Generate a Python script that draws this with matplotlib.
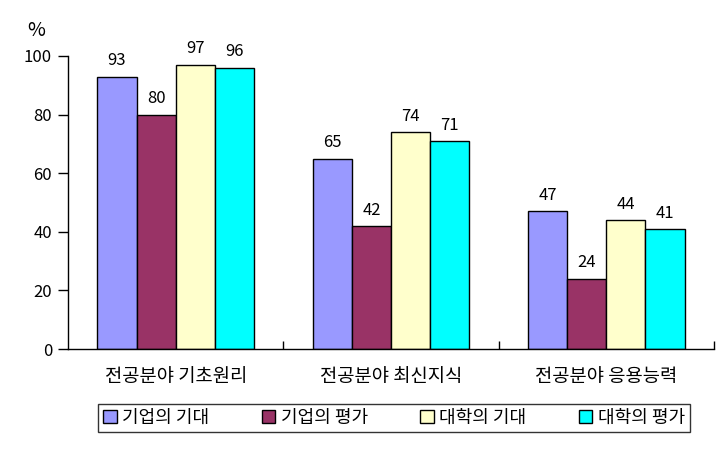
import matplotlib
matplotlib.use("Agg")
import matplotlib.pyplot as plt
import numpy as np
from matplotlib.ticker import FixedLocator

plt.rcParams['font.family'] = ['Noto Sans CJK KR', 'DejaVu Sans']

categories = ["전공분야 기초원리", "전공분야 최신지식", "전공분야 응용능력"]
series_names = ["기업의 기대", "기업의 평가", "대학의 기대", "대학의 평가"]
values = [
    [93, 65, 47],
    [80, 42, 24],
    [97, 74, 44],
    [96, 71, 41],
]
colors = ["#9999FF", "#993366", "#FFFFCC", "#00FFFF"]
yticks = [0, 20, 40, 60, 80, 100]

fig = plt.figure(figsize=(7.25, 4.5), dpi=100)
ax = fig.add_axes([68/725, 1-349/450, (714-68)/725, (349-56)/450])

n = len(series_names)
w = 1/5.5
x = np.arange(len(categories))
for i, (name, vals, c) in enumerate(zip(series_names, values, colors)):
    pos = x + (i - (n-1)/2) * w
    ax.bar(pos, vals, w, color=c, edgecolor='black', linewidth=1, label=name)
    for p, v in zip(pos, vals):
        ax.text(p, v + 2.5, str(v), ha='center', va='bottom', fontsize=12)

ax.set_xlim(-0.5, len(categories) - 0.5)
ax.set_ylim(0, 100)
ax.set_yticks(yticks)
ax.set_yticklabels([str(t) for t in yticks], fontsize=12)
ax.set_xticks(x)
ax.set_xticklabels(categories, fontsize=13.5)
ax.tick_params(axis='x', which='major', length=0, pad=12)
ax.xaxis.set_minor_locator(FixedLocator([0.5, 1.5, 2.5]))
ax.tick_params(axis='x', which='minor', direction='in', length=6, width=1)
ax.tick_params(axis='y', direction='out', length=7, width=1, pad=4.5)
for s in ['top', 'right']:
    ax.spines[s].set_visible(False)
for s in ['left', 'bottom']:
    ax.spines[s].set_linewidth(1)

fig.text(36/725, 1-30/450, "%", fontsize=14, ha='center', va='center')

leg = fig.legend(loc='center', bbox_to_anchor=(394/725, 1-418/450), ncol=4,
                 frameon=True, fancybox=False, edgecolor='black',
                 handlelength=0.75, handleheight=0.75, handletextpad=0.3,
                 columnspacing=2.9, fontsize=13, borderpad=0.3)
leg.get_frame().set_linewidth(1)

fig.savefig("out.png", dpi=100, facecolor='white')
